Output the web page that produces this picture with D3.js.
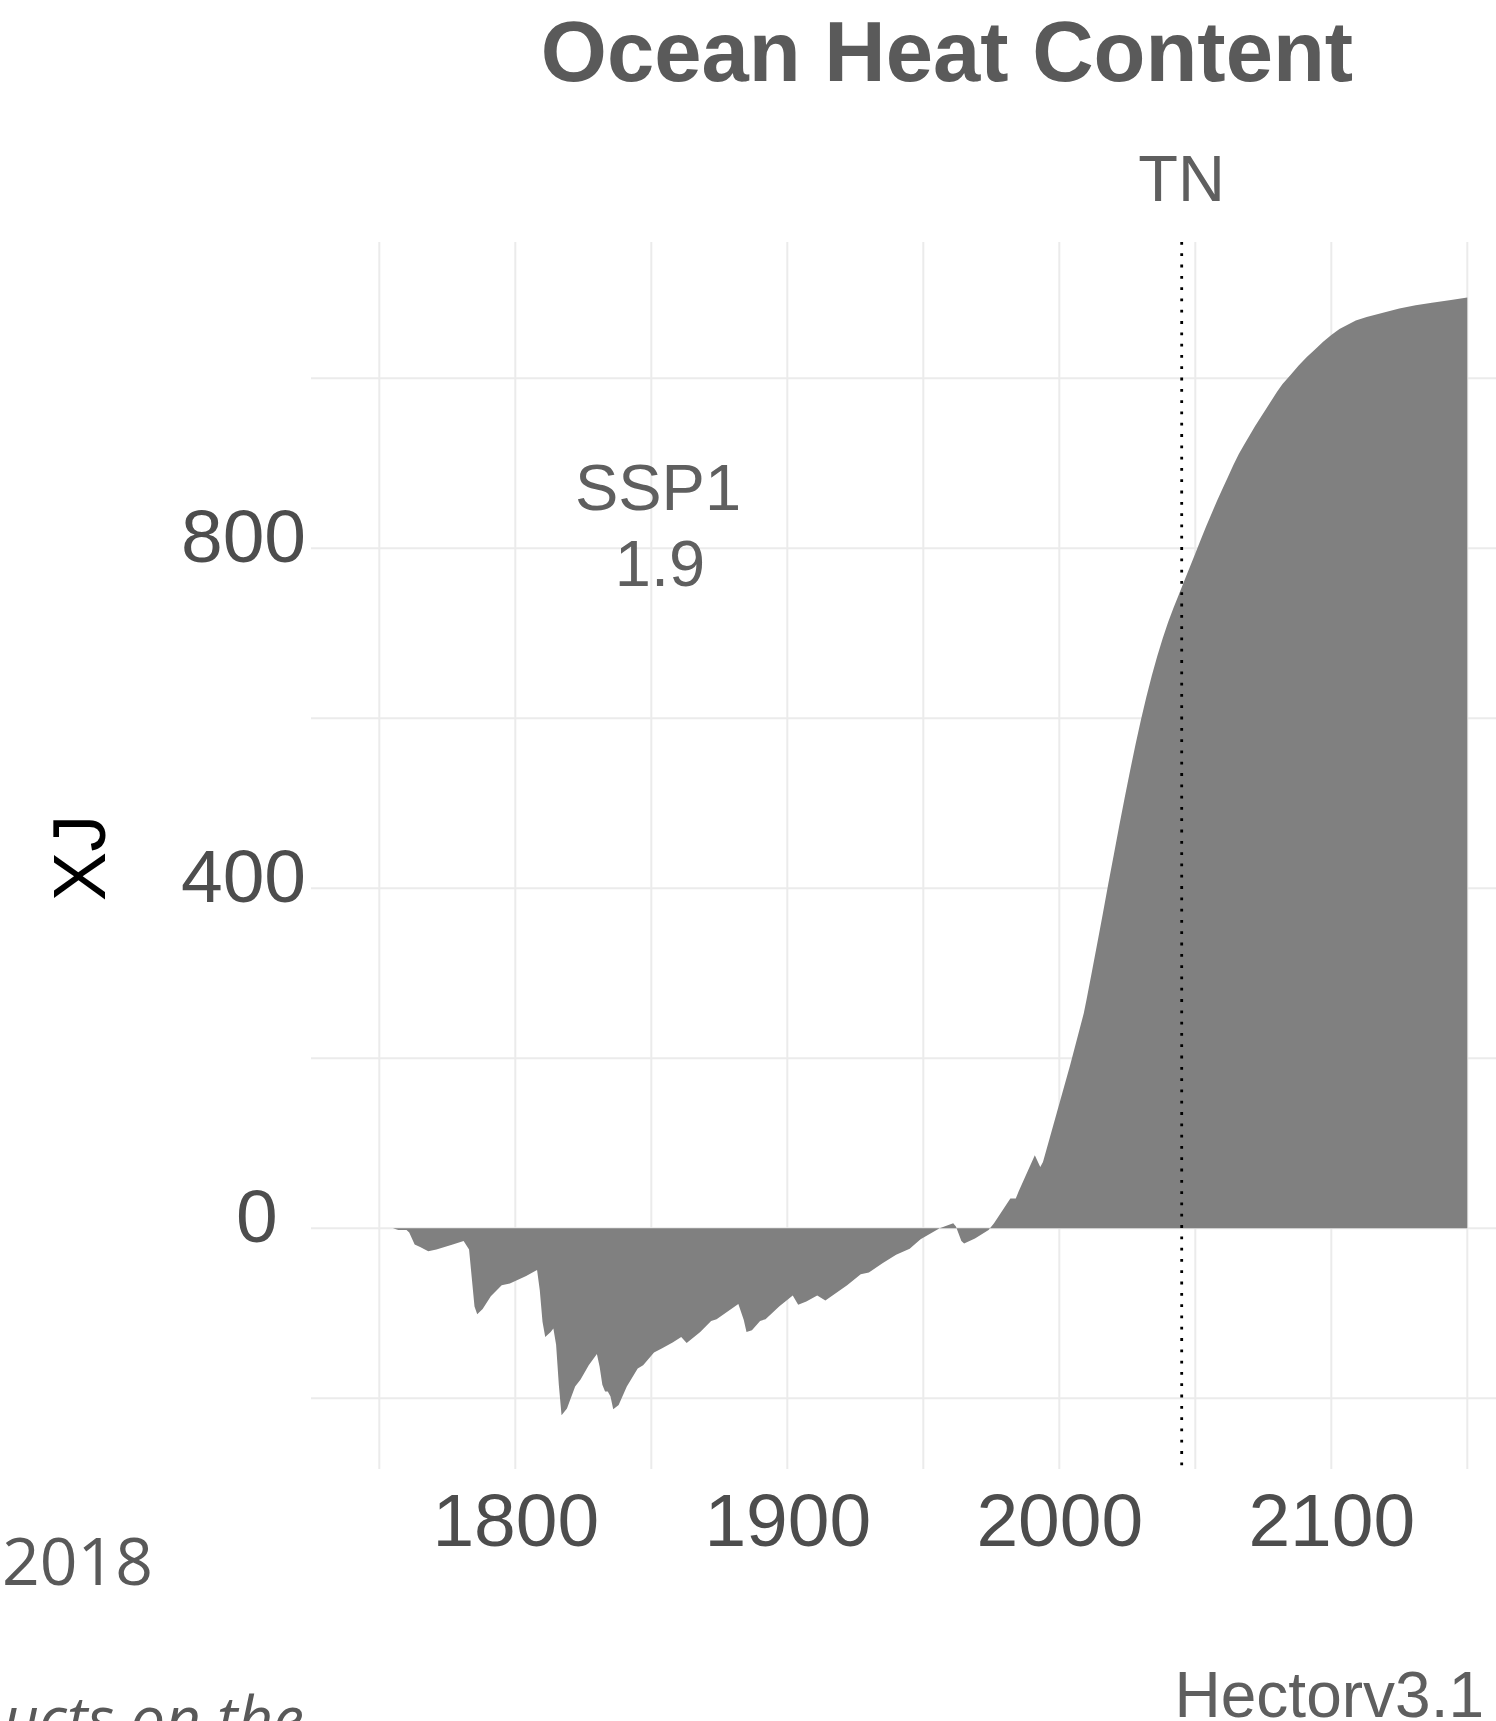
<!DOCTYPE html>
<html>
<head>
<meta charset="utf-8">
<script src="https://d3js.org/d3.v7.min.js"></script>
<style>
  body { margin: 0; background: #fff; }
  svg { display: block; }
  text { font-family: "Liberation Sans", Arial, sans-serif; }
</style>
</head>
<body>
<script>
// ocean heat content (ZJ), SSP1-1.9 run
var years = [1750, 1755, 1757, 1760, 1761, 1763, 1765, 1768, 1771, 1777, 1781, 1783, 1785, 1786, 1788,
  1791, 1795, 1798, 1804, 1808, 1809, 1810, 1811, 1813, 1814, 1815, 1816, 1817, 1819, 1822, 1824,
  1827, 1830, 1831, 1832, 1833, 1834, 1835, 1836, 1838, 1841, 1845, 1847, 1851, 1854, 1858, 1861,
  1863, 1868, 1872, 1874, 1882, 1884, 1885, 1887, 1890, 1892, 1897, 1902, 1904, 1907, 1911, 1914,
  1922, 1927, 1930, 1935, 1940, 1945, 1949, 1956, 1961, 1962, 1964, 1965, 1969, 1974, 1976, 1982,
  1984, 1985, 1991, 1993, 1994, 1999, 2004, 2009,
  2010, 2012, 2014, 2016, 2018, 2020, 2022, 2024, 2026, 2028, 2030, 2032, 2034, 2036, 2038, 2040,
  2042, 2044, 2046, 2048, 2050, 2052, 2054, 2056, 2058, 2060, 2062, 2064, 2066, 2068, 2070, 2072,
  2074, 2076, 2078, 2080, 2082, 2085, 2088, 2091, 2094, 2097, 2100, 2103, 2106, 2109, 2113, 2119,
  2125, 2131, 2137, 2144, 2150];
var heat = [0, 0, -2, -2, -5, -19, -22, -27, -25, -19, -15, -25, -92, -101, -95,
  -80, -67, -65, -56, -49, -73, -110, -128, -122, -118, -137, -184, -220, -212, -186, -178,
  -161, -148, -163, -184, -192, -192, -198, -213, -208, -186, -165, -161, -146, -141, -134, -128,
  -135, -122, -109, -107, -89, -108, -122, -120, -109, -107, -92, -79, -90, -86, -79, -85,
  -67, -54, -52, -41, -31, -24, -13, 0, 6, 2, -15, -18, -12, -2, 6, 35,
  35, 43, 86, 72, 78, 135, 192, 253,
  269, 302, 336, 370, 405, 439, 473, 506, 538, 569, 598, 625, 650, 673, 694, 713,
  730, 746, 762, 778, 794, 810, 826, 841, 856, 870, 884, 898, 911, 922, 933, 944,
  954, 964, 974, 984, 993, 1004, 1015, 1025, 1034, 1043, 1051, 1058, 1063, 1068, 1072, 1077,
  1082, 1086, 1089, 1092, 1095];

var xGrid = [1750, 1800, 1850, 1900, 1950, 2000, 2050, 2100, 2150];
var xLabels = [1800, 1900, 2000, 2100];
var yGrid = [-200, 0, 200, 400, 600, 800, 1000];
var yLabels = [0, 400, 800];
var tnYear = 2045;

var width = 1496, height = 1721;
var panel = {left: 311, right: 1496, top: 242, bottom: 1469};

var x = d3.scaleLinear().domain([1750, 2150]).range([379.3, 1467.3]);
var y = d3.scaleLinear().domain([0, 800]).range([1228.3, 548.3]);

var data = years.map(function(d, i) { return [d, heat[i]]; });

var svg = d3.select("body").append("svg")
    .attr("width", width)
    .attr("height", height);

// grid
svg.append("g").selectAll("line")
    .data(xGrid)
    .enter().append("line")
    .attr("x1", d => x(d)).attr("x2", d => x(d))
    .attr("y1", panel.top).attr("y2", panel.bottom)
    .attr("stroke", "#ebebeb").attr("stroke-width", 2);

svg.append("g").selectAll("line")
    .data(yGrid)
    .enter().append("line")
    .attr("x1", panel.left).attr("x2", panel.right)
    .attr("y1", d => y(d)).attr("y2", d => y(d))
    .attr("stroke", "#ebebeb").attr("stroke-width", 2);

// area
var area = d3.area()
    .x(d => x(d[0]))
    .y0(y(0))
    .y1(d => y(d[1]));

svg.append("path")
    .datum(data)
    .attr("d", area)
    .attr("fill", "#808080");

// TN year marker
svg.append("line")
    .attr("x1", x(tnYear)).attr("x2", x(tnYear))
    .attr("y1", panel.top).attr("y2", panel.bottom)
    .attr("stroke", "#000")
    .attr("stroke-width", 2.8)
    .attr("stroke-dasharray", "2.8 8.5");

// axes
var xAxis = svg.append("g")
    .attr("transform", "translate(0," + panel.bottom + ")")
    .call(d3.axisBottom(x).tickValues(xLabels).tickFormat(d3.format("d")).tickSize(0).tickPadding(24));
var yAxis = svg.append("g")
    .attr("transform", "translate(" + panel.left + ",0)")
    .call(d3.axisLeft(y).tickValues(yLabels).tickSize(0).tickPadding(8));

[xAxis, yAxis].forEach(function(a) {
    a.select(".domain").remove();
    a.selectAll("text")
        .attr("fill", "#4d4d4d")
        .style("font-size", "75px")
        .style("font-family", "'Liberation Sans', Arial, sans-serif");
});
// y labels are not flush right in the original (hjust about 0.66)
yAxis.selectAll("text")
    .attr("dy", "0.18em")
    .attr("text-anchor", "start")
    .attr("x", function() { return -47.5 - 0.66 * this.getComputedTextLength(); });

// titles and notes
svg.append("text")
    .attr("x", 947).attr("y", 81)
    .attr("text-anchor", "middle")
    .attr("fill", "#5a5a5a")
    .style("font-size", "85px").style("font-weight", "bold")
    .text("Ocean Heat Content");

svg.append("text")
    .attr("transform", "translate(105,858) rotate(-90)")
    .attr("text-anchor", "middle")
    .attr("fill", "#000")
    .style("font-size", "74px")
    .text("XJ");

svg.append("text")
    .attr("x", x(tnYear)).attr("y", 201)
    .attr("text-anchor", "middle")
    .attr("fill", "#5f5f5f")
    .style("font-size", "65px")
    .text("TN");

svg.append("text")
    .attr("x", 658).attr("y", 510)
    .attr("text-anchor", "middle")
    .attr("fill", "#5f5f5f")
    .style("font-size", "65px")
    .text("SSP1");
svg.append("text")
    .attr("x", 660).attr("y", 586)
    .attr("text-anchor", "middle")
    .attr("fill", "#5f5f5f")
    .style("font-size", "65px")
    .text("1.9");

svg.append("text")
    .attr("x", 1484).attr("y", 1717)
    .attr("text-anchor", "end")
    .attr("fill", "#5f5f5f")
    .style("font-size", "64px")
    .text("Hectorv3.1");

// bits of the neighbouring panel
svg.append("text")
    .attr("x", 2).attr("y", 1585)
    .attr("fill", "#595959")
    .style("font-size", "66px")
    .style("font-family", "'Open Sans', sans-serif")
    .text("2018");

svg.append("text")
    .attr("x", 304).attr("y", 1741)
    .attr("text-anchor", "end")
    .attr("fill", "#595959")
    .style("font-size", "62px")
    .style("font-style", "italic")
    .style("font-family", "'Open Sans', sans-serif")
    .text("ucts on the");
</script>
</body>
</html>
